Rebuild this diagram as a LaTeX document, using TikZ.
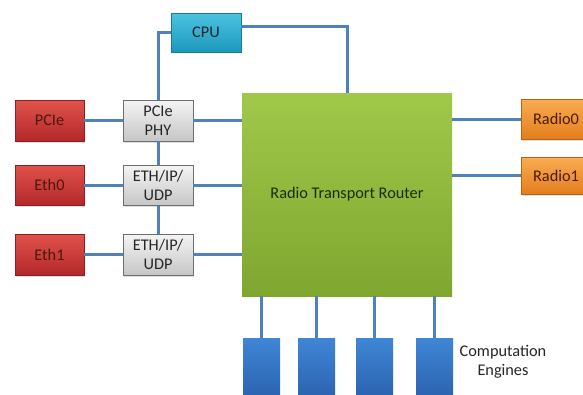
\documentclass[tikz,border=0pt]{standalone}
\usepackage{fontspec}
\setmainfont{Carlito}
\usetikzlibrary{shadows}
\definecolor{redT}{HTML}{E0524B}
\definecolor{redB}{HTML}{B3282A}
\definecolor{redD}{HTML}{8F1F1F}
\definecolor{grayT}{HTML}{F4F4F4}
\definecolor{grayB}{HTML}{C6C6C6}
\definecolor{grayD}{HTML}{6E6E6E}
\definecolor{cpuT}{HTML}{4CC3E0}
\definecolor{cpuB}{HTML}{1C98BD}
\definecolor{cpuD}{HTML}{167A99}
\definecolor{greenT}{HTML}{A0C94A}
\definecolor{greenB}{HTML}{7FA62F}
\definecolor{orangeT}{HTML}{F9AC50}
\definecolor{orangeB}{HTML}{E37E1E}
\definecolor{orangeD}{HTML}{B8630F}
\definecolor{blueT}{HTML}{3F86D6}
\definecolor{blueB}{HTML}{2A61AE}
\definecolor{linkC}{HTML}{4F81BD}
\definecolor{txt}{HTML}{262626}
\definecolor{txtR}{HTML}{4A1A0A}
\definecolor{txtG}{HTML}{1F2A0A}
\begin{document}
\begin{tikzpicture}[x=1pt,y=-1pt,
  base/.style={inner sep=0pt, align=center, font=\fontsize{16.3}{19.5}\selectfont, text=txt, line width=0.6pt},
  redbox/.style={base, top color=redT, bottom color=redB, draw=redD, text=txtR, drop shadow={opacity=0.25, shadow xshift=1pt, shadow yshift=-1.5pt}},
  graybox/.style={base, top color=grayT, bottom color=grayB, draw=grayD, drop shadow={opacity=0.25, shadow xshift=1pt, shadow yshift=-1.5pt}},
  cpubox/.style={base, top color=cpuT, bottom color=cpuB, draw=cpuD},
  greenbox/.style={base, top color=greenT, bottom color=greenB, draw=none, text=txtG},
  orangebox/.style={base, top color=orangeT, bottom color=orangeB, draw=orangeD, text=txtR, drop shadow={opacity=0.25, shadow xshift=1pt, shadow yshift=-1.5pt}},
  bluebox/.style={base, top color=blueT, bottom color=blueB, draw=none},
  link/.style={draw=linkC, line width=3pt},
  thinlink/.style={draw=linkC, line width=2.4pt}]
\clip (0,0) rectangle (583,394);
\fill[white] (0,0) rectangle (583,394);

% green router
\node[greenbox, minimum width=210, minimum height=203] (rt) at (347,194.5) {Radio Transport Router};

% CPU
\node[cpubox, minimum width=70, minimum height=39] (cpu) at (206,32.5) {CPU};

% left side
\node[redbox, minimum width=69, minimum height=41] (pcie) at (49.5,120.5) {PCIe};
\node[redbox, minimum width=69, minimum height=40] (eth0) at (49.5,185) {Eth0};
\node[redbox, minimum width=69, minimum height=41] (eth1) at (49.5,254.5) {Eth1};

\node[graybox, minimum width=70, minimum height=41] (phy) at (158,120.5) {PCIe\\PHY};
\node[graybox, minimum width=70, minimum height=40] (udp0) at (158,185.5) {ETH/IP/\\UDP};
\node[graybox, minimum width=70, minimum height=41] (udp1) at (158,254.5) {ETH/IP/\\UDP};

% radios
\node[orangebox, minimum width=70, minimum height=40] (radio0) at (556,119) {Radio0};
\node[orangebox, minimum width=70, minimum height=37] (radio1) at (556,175.5) {Radio1};

% engines
\node[bluebox, minimum width=37, minimum height=62] (e1) at (261.5,369) {};
\node[bluebox, minimum width=37, minimum height=62] (e2) at (316.5,369) {};
\node[bluebox, minimum width=37, minimum height=62] (e3) at (374.5,369) {};
\node[bluebox, minimum width=37, minimum height=62] (e4) at (434.5,369) {};
\node[base] (ce) at (503,362) {Computation\\Engines};

% connectors
\draw[link] (cpu.west) -| (phy.north);
\draw[link] ([yshift=6pt]cpu.east) -| (rt.north);
\draw[link] (pcie.east) -- (phy.west);
\draw[link] (eth0.east) -- (eth0.east -| udp0.west);
\draw[link] (eth1.east) -- (udp1.west);
\draw[link] (phy.east) -- (phy.east -| rt.west);
\draw[link] (udp0.east) -- (udp0.east -| rt.west);
\draw[link] (udp1.east) -- (udp1.east -| rt.west);
\draw[link] (phy.south) -- (udp0.north);
\draw[link] (udp0.south) -- (udp1.north);
\draw[link] (radio0.west -| rt.east) -- (radio0.west);
\draw[link] (radio1.west -| rt.east) -- (radio1.west);
\draw[thinlink] (e1.north |- rt.south) -- (e1.north);
\draw[thinlink] (e2.north |- rt.south) -- (e2.north);
\draw[thinlink] (e3.north |- rt.south) -- (e3.north);
\draw[thinlink] (e4.north |- rt.south) -- (e4.north);
\end{tikzpicture}
\end{document}
